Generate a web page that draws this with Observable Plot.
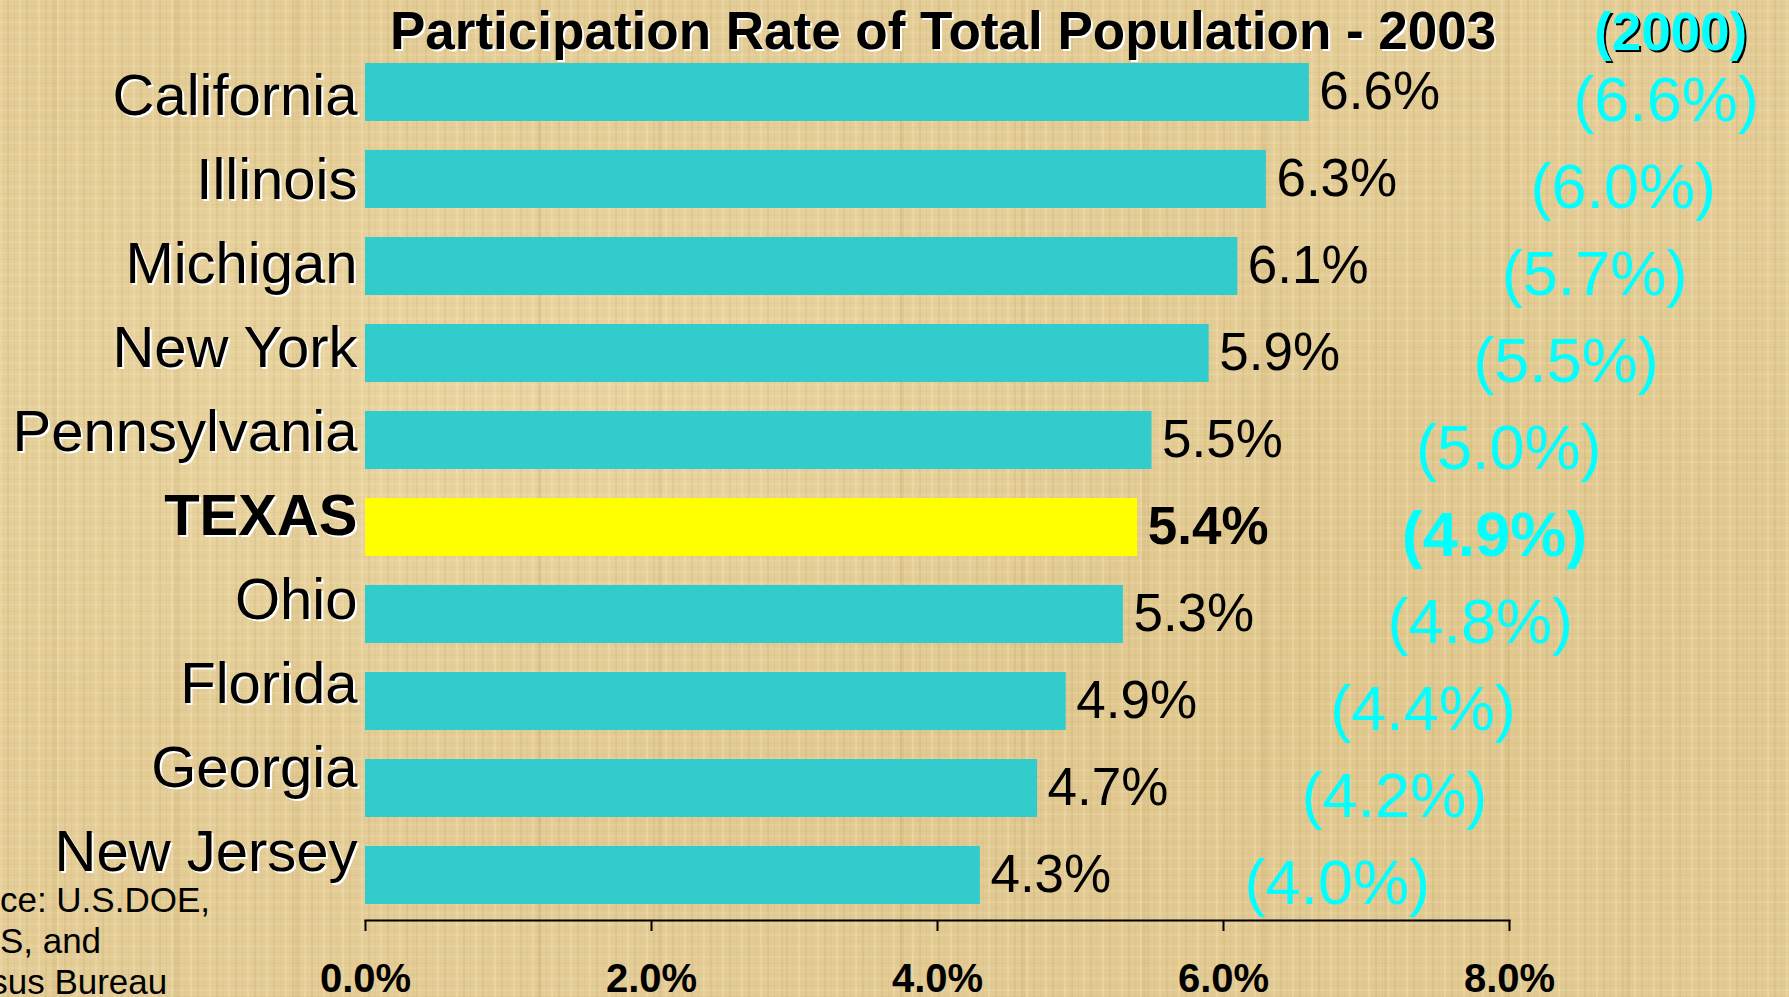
<!DOCTYPE html>
<html>
<head>
<meta charset="utf-8">
<script src="https://cdn.jsdelivr.net/npm/d3@7"></script>
<script src="https://cdn.jsdelivr.net/npm/@observablehq/plot@0.6"></script>
<style>
  html, body { margin: 0; padding: 0; }
  body {
    width: 1789px; height: 997px; overflow: hidden; position: relative;
    font-family: "Liberation Sans", Arial, sans-serif;
    background-color: #e3cc95;
    background-image:
      repeating-linear-gradient(90deg, rgba(255,242,205,0.22) 0px, rgba(255,242,205,0.22) 2px, transparent 2px, transparent 7px, rgba(150,110,40,0.09) 7px, rgba(150,110,40,0.09) 9px, transparent 9px, transparent 14px, rgba(150,110,40,0.06) 14px, rgba(150,110,40,0.06) 15px, transparent 15px, transparent 19px),
      repeating-linear-gradient(0deg, rgba(150,110,40,0.045) 0px, rgba(150,110,40,0.045) 1px, transparent 1px, transparent 6px, rgba(255,242,205,0.12) 6px, rgba(255,242,205,0.12) 8px, transparent 8px, transparent 11px),
      repeating-linear-gradient(90deg, transparent 0px, transparent 53px, rgba(140,100,40,0.07) 53px, rgba(140,100,40,0.07) 57px, transparent 57px, transparent 121px),
      radial-gradient(ellipse at 30% 40%, rgba(255,240,200,0.25), transparent 45%),
      radial-gradient(ellipse at 75% 70%, rgba(200,170,100,0.15), transparent 50%);
  }
  .layer { position: absolute; left: 0; top: 0; }
  #title {
    position: absolute; left: 390px; top: 4px; white-space: nowrap;
    font-size: 53px; font-weight: bold; line-height: 1; color: #000;
    text-shadow: 2px 2px 0 #fff;
  }
  #year2000 {
    position: absolute; left: 1594px; top: 5px; white-space: nowrap;
    font-size: 53px; font-weight: bold; line-height: 1; color: #00ffff;
    text-shadow: 2px 2px 0 #000;
  }
  #source {
    position: absolute; left: -74px; top: 879px; width: 500px;
    font-size: 35px; line-height: 41px; color: #000;
  }
  #chart g[aria-label="x-axis tick label"] text { font-weight: bold; }
</style>
</head>
<body>
<div id="chart" class="layer"></div>
<div id="labels" class="layer"></div>
<div id="title">Participation Rate of Total Population - 2003</div>
<div id="year2000">(2000)</div>
<div id="source">Source: U.S.DOE,<br>NCES, and<br>Census Bureau</div>
<script>
const states = ["California", "Illinois", "Michigan", "New York", "Pennsylvania", "TEXAS", "Ohio", "Florida", "Georgia", "New Jersey"];
const rate2003 = [6.6, 6.3, 6.1, 5.9, 5.5, 5.4, 5.3, 4.9, 4.7, 4.3];
const rate2000 = [6.6, 6.0, 5.7, 5.5, 5.0, 4.9, 4.8, 4.4, 4.2, 4.0];
const xTicks = [0, 2, 4, 6, 8];
const highlight = "TEXAS";

const data = states.map((state, i) => ({state, v03: rate2003[i], v00: rate2000[i]}));
const isHi = d => d.state === highlight;
const notHi = d => d.state !== highlight;
const pct = v => v.toFixed(1) + "%";

const font = "'Liberation Sans', Arial, sans-serif";
const baseStyle = {background: "transparent", fontFamily: font, color: "#000", overflow: "visible"};

const chart = Plot.plot({
  width: 1789,
  height: 997,
  marginLeft: 365,
  marginRight: 280,
  marginTop: 48,
  marginBottom: 77,
  style: baseStyle,
  x: {domain: [0, 8], label: null},
  y: {domain: states, paddingInner: 0.33, paddingOuter: 0.17, axis: null},
  marks: [
    Plot.barX(data, {filter: notHi, y: "state", x: "v03", fill: "#33cccc"}),
    Plot.barX(data, {filter: isHi, y: "state", x: "v03", fill: "#ffff00"}),
    Plot.frame({anchor: "bottom", stroke: "#000", strokeWidth: 2}),
    Plot.axisX({ticks: xTicks, tickFormat: pct, tickSize: 11, tickPadding: 32, fontSize: 40, fontWeight: "bold", strokeWidth: 2, stroke: "#000", label: null}),
    // 2003 values
    Plot.text(data, {filter: notHi, y: "state", x: "v03", text: d => pct(d.v03), textAnchor: "start", dx: 10, fill: "#000", fontSize: 53}),
    Plot.text(data, {filter: isHi, y: "state", x: "v03", text: d => pct(d.v03), textAnchor: "start", dx: 10, fill: "#000", fontSize: 53, fontWeight: "bold"}),
    // 2000 values
    Plot.text(data, {filter: notHi, y: "state", x: "v03", text: d => "(" + pct(d.v00) + ")", textAnchor: "start", dx: 264, dy: 8, fill: "#00ffff", fontSize: 63}),
    Plot.text(data, {filter: isHi, y: "state", x: "v03", text: d => "(" + pct(d.v00) + ")", textAnchor: "start", dx: 264, dy: 8, fill: "#00ffff", fontSize: 63, fontWeight: "bold"})
  ]
});
document.getElementById("chart").appendChild(chart);

// Category labels: evenly spaced with their own (slightly tighter) point scale, as in the original slide
const labels = Plot.plot({
  width: 1789,
  height: 997,
  marginLeft: 365,
  marginRight: 280,
  marginTop: 93,
  marginBottom: 142,
  style: baseStyle,
  x: {domain: [0, 8], axis: null},
  y: {type: "point", domain: states, padding: 0, axis: null},
  marks: [
    Plot.text(data, {filter: notHi, y: "state", text: "state", frameAnchor: "left", textAnchor: "end", dx: -6, dy: 2, fill: "#fff", fontSize: 58}),
    Plot.text(data, {filter: notHi, y: "state", text: "state", frameAnchor: "left", textAnchor: "end", dx: -8, fill: "#000", fontSize: 58}),
    Plot.text(data, {filter: isHi, y: "state", text: "state", frameAnchor: "left", textAnchor: "end", dx: -6, dy: 2, fill: "#fff", fontSize: 58, fontWeight: "bold"}),
    Plot.text(data, {filter: isHi, y: "state", text: "state", frameAnchor: "left", textAnchor: "end", dx: -8, fill: "#000", fontSize: 58, fontWeight: "bold"})
  ]
});
document.getElementById("labels").appendChild(labels);
</script>
</body>
</html>
